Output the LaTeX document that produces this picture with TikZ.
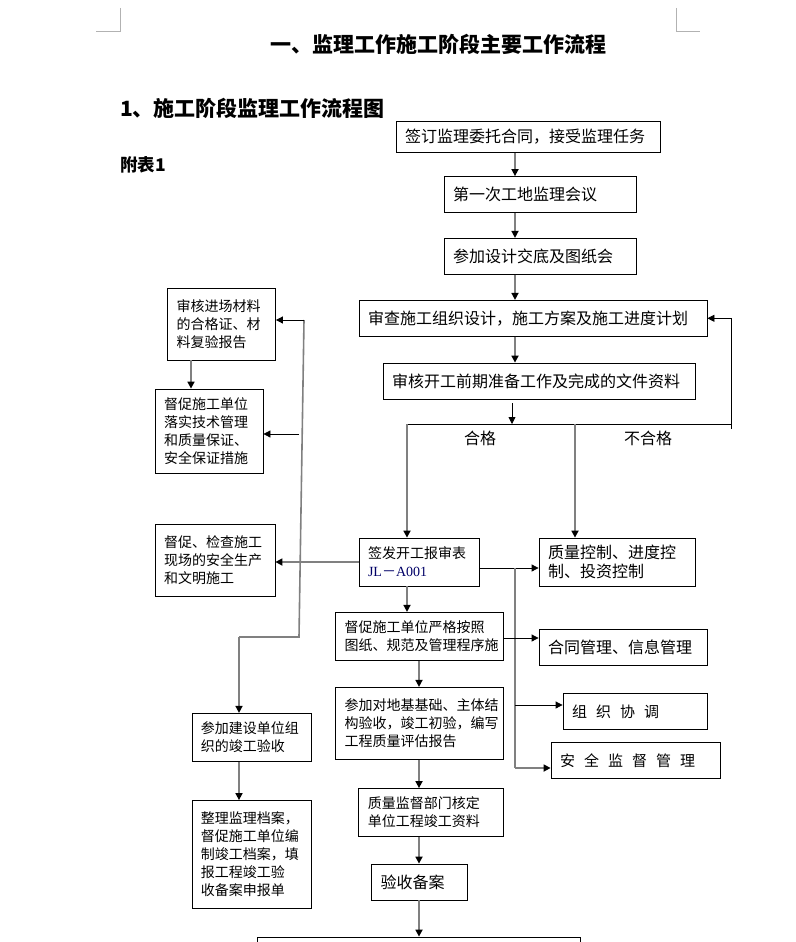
\documentclass[tikz,border=0pt]{standalone}
\usepackage{fontspec}
\setmainfont{Liberation Serif}
\newfontfamily\cjk{Noto Sans CJK SC}
\usetikzlibrary{arrows.meta,calc}

\tikzset{
  box/.style={draw, line width=0.8pt, inner xsep=9pt, inner ysep=0pt, align=left,
    font=\cjk\fontsize{14}{18}\selectfont},
  bigbox/.style={box, font=\cjk\fontsize{16}{19}\selectfont},
  link/.style={draw=black!50, line width=1.6pt},
  thin link/.style={draw=black, line width=0.8pt},
  lbl/.style={inner sep=0pt, font=\cjk\fontsize{16}{19}\selectfont},
  heading/.style={inner sep=0pt, font=\cjk\bfseries\fontsize{21}{24}\selectfont},
  crop/.style={draw=black!30, line width=0.6pt},
}
\newcommand\gapp{\hskip 9pt}

\begin{document}
\begin{tikzpicture}[x=1pt, y=-1pt, >={Triangle[length=7pt,width=7pt,color=black]}]
    \useasboundingbox (0,0) rectangle (795,942);

    % page corners
    \draw [crop] (120,8) -- (120,31) -- (96,31);
    \draw [crop] (676,8) -- (676,31) -- (700,31);

    \node [heading] (head) at (438.5,44) {一、监理工作施工阶段主要工作流程};
    \node [heading, anchor=west] (sub) at (120,108) {1、施工阶段监理工作流程图};
    \node [heading, anchor=west, font=\cjk\bfseries\fontsize{17.5}{20}\selectfont] (tab) at (120,165) {附表1};

    % main column
    \node [bigbox, text width=246pt, minimum height=31pt] (b1) at (528,137) {签订监理委托合同，接受监理任务};
    \node [bigbox, text width=174pt, minimum height=36pt] (b2) at (540,194.5) {第一次工地监理会议};
    \node [bigbox, text width=174pt, minimum height=36pt] (b3) at (540,256.3) {参加设计交底及图纸会};
    \node [bigbox, text width=330pt, minimum height=36pt] (b4) at (533,318.3) {审查施工组织设计，施工方案及施工进度计划};
    \node [bigbox, text width=294pt, minimum height=36pt] (b5) at (539,381) {审核开工前期准备工作及完成的文件资料};

    \node [box, text width=102pt, minimum height=48pt] (sgn) at (419,562) {签发开工报审表\\{\color{blue!40!black}{\rmfamily JL}－{\rmfamily A001}}};
    \node [bigbox, text width=138pt, minimum height=48pt] (qc) at (617,562) {质量控制、进度控\\制、投资控制};
    \node [box, text width=150pt, minimum height=48pt] (strict) at (419.5,636.3) {督促施工单位严格按照\\图纸、规范及管理程序施};
    \node [box, text width=150pt, minimum height=72pt] (acc) at (419.5,723.3) {参加对地基基础、主体结\\构验收，竣工初验，编写\\工程质量评估报告};
    \node [box, text width=127pt, minimum height=48pt] (sup) at (431.3,812.5) {质量监督部门核定\\单位工程竣工资料};
    \node [bigbox, text width=78pt, minimum height=36pt] (rec) at (419.5,882) {验收备案};
    \node [box, text width=305pt, minimum height=60pt] (fin) at (418.4,967) {};

    % right column
    \node [bigbox, text width=150pt, minimum height=36pt] (con) at (623,647.3) {合同管理、信息管理};
    \node [box, font=\cjk\fontsize{15}{18}\selectfont, text width=126pt, minimum height=36pt] (coord) at (635,711.3) {组\gapp 织\gapp 协\gapp 调};
    \node [box, font=\cjk\fontsize{15}{18}\selectfont, text width=151pt, minimum height=36pt] (secu) at (635.5,760.3) {安\gapp 全\gapp 监\gapp 督\gapp 管\gapp 理};

    % left column
    \node [box, text width=90pt, minimum height=72pt] (mat) at (221.5,324) {审核进场材料\\的合格证、材\\料复验报告};
    \node [box, text width=90pt, minimum height=84pt] (tech) at (209,431) {督促施工单位\\落实技术管理\\和质量保证、\\安全保证措施};
    \node [box, text width=102pt, minimum height=72pt] (safe) at (215,560) {督促、检查施工\\现场的安全生产\\和文明施工};
    \node [box, text width=101pt, minimum height=48pt] (ownr) at (251.4,737.3) {参加建设单位组\\织的竣工验收};
    \node [box, text width=101pt, minimum height=108pt] (arch) at (251.4,854.5) {整理监理档案，\\督促施工单位编\\制竣工档案，填\\报工程竣工验\\收备案申报单};

    \coordinate (mx) at (515,0);
    \coordinate (cx) at (419,0);
    \coordinate (split) at (512,424);
    \coordinate (passL) at (407,424);
    \coordinate (failL) at (575,424);
    \coordinate (failR) at (731,424);
    \coordinate (tap) at (515,568);
    \coordinate (tapC) at (515,638);
    \coordinate (tapA) at (515,705);
    \coordinate (tapB) at (515,768);
    \coordinate (spineT) at (304,320);
    \coordinate (spineM) at (299,434);
    \coordinate (spineB) at (299,637);
    \coordinate (spineL) at (239,637);
    \coordinate (lx) at (191,0);

    \draw [link, ->] (b1.south -| mx) -- (b2.north -| mx);
    \draw [link, ->] (b2.south -| mx) -- (b3.north -| mx);
    \draw [link, ->] (b3.south -| mx) -- (b4.north -| mx);
    \draw [link, ->] (b4.south -| mx) -- (b5.north -| mx);

    % pass / fail split
    \draw [thin link, ->] ([yshift=-4pt]b5.south -| split) -- (split);
    \draw [thin link] (passL) -- (failR) -- ([yshift=-5pt]failR);
    \draw [thin link, ->] (failR) -- (failR |- b4.east) -- (b4.east);
    \draw [link, ->] (passL) -- (passL |- sgn.north);
    \draw [link, ->] (failL) -- (failL |- qc.north);
    \node [lbl] (ok) at (480,438) {合格};
    \node [lbl] (nok) at (648,438) {不合格};

    \draw [thin link, ->] (sgn.east |- tap) -- (qc.west |- tap);
    \draw [link] (tap) -- (tapB);
    \draw [thin link, ->] (strict.east |- tapC) -- (con.west |- tapC);
    \draw [thin link, ->] (tapA) -- (tapA -| coord.west);
    \draw [link, ->] (tapB) -- (tapB -| secu.west);

    \draw [link, ->] (sgn.south -| passL) -- (strict.north -| passL);
    \draw [link, ->] (strict.south -| cx) -- (acc.north -| cx);
    \draw [link, ->] (acc.south -| cx) -- (sup.north -| cx);
    \draw [link, ->] (sup.south -| cx) -- (rec.north -| cx);
    \draw [link, ->] (rec.south -| cx) -- (fin.north -| cx);

    \draw [link, ->] (sgn.west) -- (sgn.west -| safe.east);

    % left spine
    \draw [link] (spineT) -- (spineB) -- (spineL);
    \draw [link, ->] (spineL) -- (spineL |- ownr.north);
    \draw [thin link, ->] (spineT) -- (spineT -| mat.east);
    \draw [thin link, ->] (spineM) -- (spineM -| tech.east);
    \draw [link, ->] (mat.south -| lx) -- (tech.north -| lx);
    \draw [link, ->] (ownr.south -| spineL) -- (arch.north -| spineL);

\end{tikzpicture}
\end{document}
